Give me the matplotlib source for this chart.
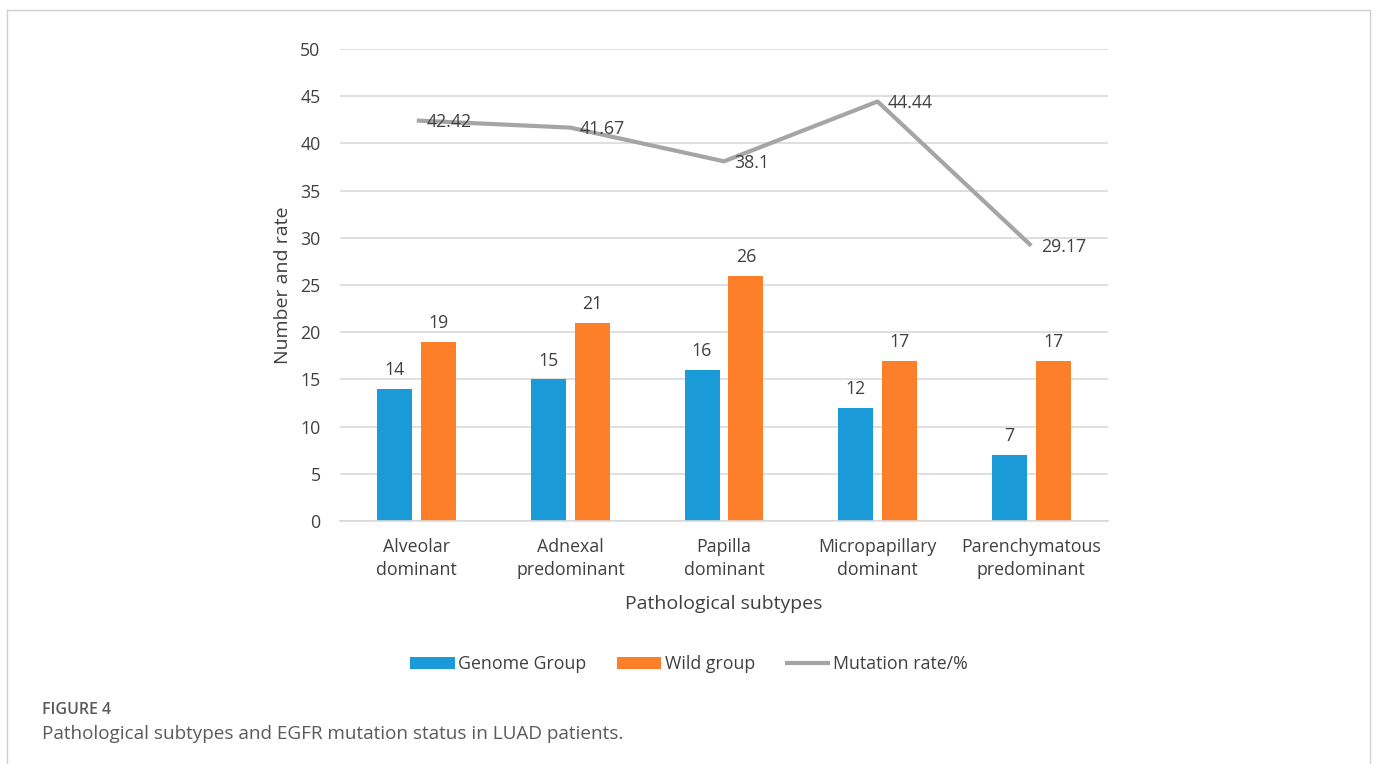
import numpy as np
import matplotlib.pyplot as plt
from matplotlib.lines import Line2D

plt.rcParams['font.family'] = ['Open Sans', 'DejaVu Sans']

categories = ["Alveolar\ndominant", "Adnexal\npredominant", "Papilla\ndominant",
              "Micropapillary\ndominant", "Parenchymatous\npredominant"]
genome = [14, 15, 16, 12, 7]
wild = [19, 21, 26, 17, 17]
rate = [42.42, 41.67, 38.1, 44.44, 29.17]
rate_labels = ["42.42", "41.67", "38.1", "44.44", "29.17"]

blue = "#1a9ad6"
orange = "#fe7f2a"
gray = "#a5a5a5"
txt = "#404040"
fs = 12.8

fig = plt.figure(figsize=(13.78, 7.64), dpi=100)
ax = fig.add_axes([340 / 1378, 1 - 521 / 764, 768 / 1378, 472 / 764])

x = np.arange(len(categories))
w = 0.228
off = 0.143
b1 = ax.bar(x - off, genome, w, color=blue, label="Genome Group", zorder=2)
b2 = ax.bar(x + off, wild, w, color=orange, label="Wild group", zorder=2)
ax.plot(x, rate, color=gray, lw=3, label="Mutation rate/%", zorder=3,
        solid_capstyle="butt")

for xi, v in zip(x, genome):
    ax.annotate(str(v), (xi - off, v), xytext=(0, 7), textcoords="offset points",
                ha="center", va="bottom", fontsize=fs, color=txt)
for xi, v in zip(x, wild):
    ax.annotate(str(v), (xi + off, v), xytext=(0, 7), textcoords="offset points",
                ha="center", va="bottom", fontsize=fs, color=txt)
for xi, v, s in zip(x, rate, rate_labels):
    ax.annotate(s, (xi, v), xytext=(7, -1), textcoords="offset points",
                ha="left", va="center", fontsize=fs, color=txt, zorder=4)

ax.set_xlim(-0.5, 4.5)
ax.set_ylim(0, 50)
ax.set_yticks(range(0, 51, 5))
ax.set_xticks(x)
ax.set_xticklabels(categories, fontsize=fs, color=txt, linespacing=1.35)
ax.tick_params(axis="y", labelsize=fs, labelcolor=txt, length=0, pad=14)
ax.tick_params(axis="x", length=0, pad=12)
ax.grid(axis="y", color="#d9d9d9", lw=1.2, zorder=0)
for s in ["top", "right", "left"]:
    ax.spines[s].set_visible(False)
ax.spines["bottom"].set_color("#d9d9d9")
ax.spines["bottom"].set_linewidth(1.2)
ax.set_xlabel("Pathological subtypes", fontsize=14, color=txt, labelpad=12)
ax.set_ylabel("Number and rate", fontsize=14, color=txt, labelpad=6)

fig.legend(handles=[b1, b2, ax.lines[0]], loc="center", bbox_to_anchor=(689 / 1378, 1 - 664 / 764),
           ncol=3, frameon=False, fontsize=fs, labelcolor=txt, handlelength=2.5,
           handleheight=0.7, handletextpad=0.2, columnspacing=1.7)

fig.text(42 / 1378, 1 - 710 / 764, "FIGURE 4", fontsize=11.5, fontweight="semibold",
         color="#5a5a5a", va="center", ha="left")
fig.text(42 / 1378, 1 - 734 / 764, "Pathological subtypes and EGFR mutation status in LUAD patients.",
         fontsize=13.6, color="#5a5a5a", va="center", ha="left")

# frame around the figure panel
bc = "#d0d0d0"
fig.add_artist(Line2D([7 / 1378, 1370 / 1378], [1 - 10 / 764, 1 - 10 / 764], color=bc, lw=1))
fig.add_artist(Line2D([7 / 1378, 7 / 1378], [0, 1 - 10 / 764], color=bc, lw=1))
fig.add_artist(Line2D([1370 / 1378, 1370 / 1378], [0, 1 - 10 / 764], color=bc, lw=1))

fig.savefig("out.png", dpi=100)
